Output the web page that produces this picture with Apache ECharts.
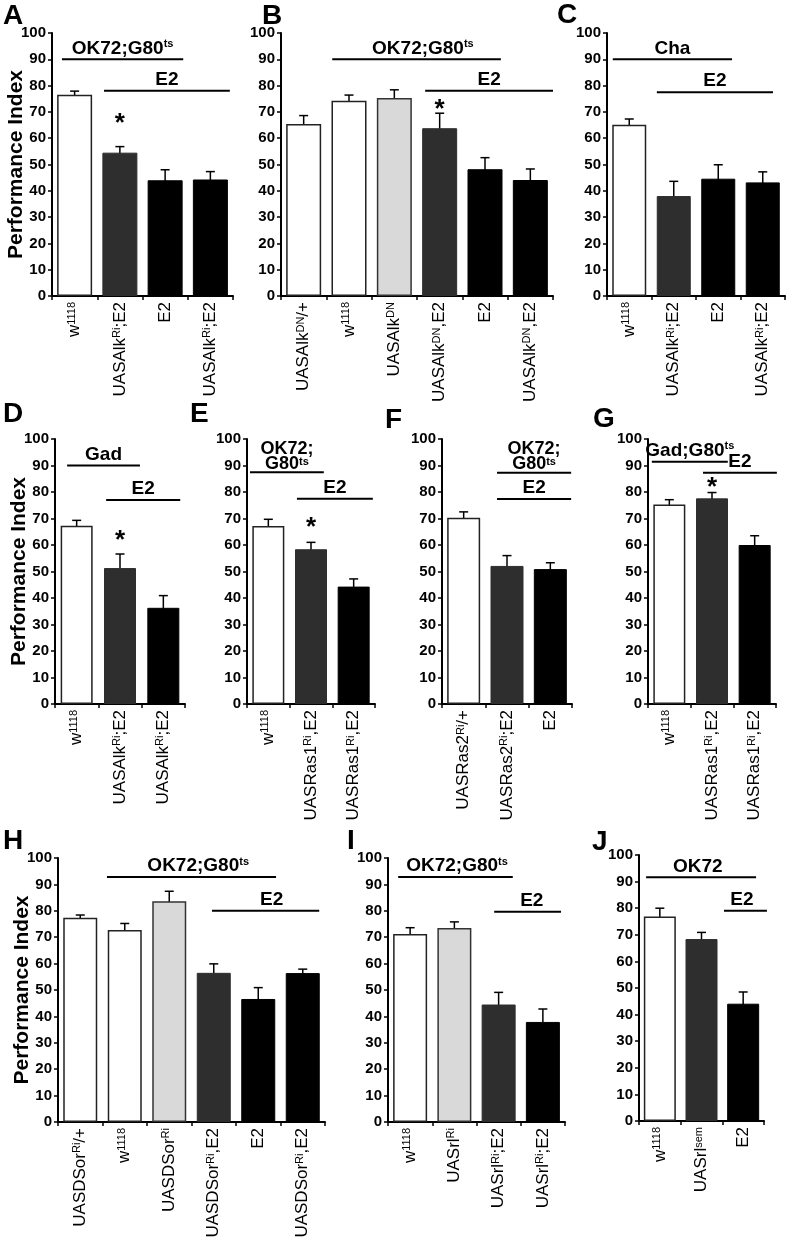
<!DOCTYPE html>
<html><head><meta charset="utf-8">
<script src="https://cdn.jsdelivr.net/npm/echarts@6/dist/echarts.min.js"></script>
<style>html,body{margin:0;padding:0;background:#fff}#c{width:787px;height:1240px}</style>
</head><body><div id="c"></div>
<script>
// ---------------- DATA ----------------
const catsA = ['w^{1118}','UASAlk^{Ri};E2','E2','UASAlk^{Ri};E2'];
const valsA = [76.5,54.5,44,44.3];
const errsA = [1.4,2.3,4,3];
const typesA = ['w','d','k','k'];
const groupsA = [{from:-0.28,to:2.4,at:90,label:'OK72;G80^{ts}'},{from:0.65,to:3.43,at:78,label:'E2'}];
const starsA = [[1,67.7]];

const catsB = ['UASAlk^{DN}/+','w^{1118}','UASAlk^{DN}','UASAlk^{DN},E2','E2','UASAlk^{DN},E2'];
const valsB = [65.4,74.2,75.3,63.8,48.2,44.1];
const errsB = [3.2,2.2,3.1,5.7,4.4,4.2];
const typesB = ['w','w','l','d','k','k'];
const groupsB = [{from:0.63,to:4.35,at:90,label:'OK72;G80^{ts}',labelAt:2.63},{from:2.68,to:5.5,at:78,label:'E2'}];
const starsB = [[3,73]];

const catsC = ['w^{1118}','UASAlk^{Ri};E2','E2','UASAlk^{Ri};E2'];
const valsC = [65.1,38,44.6,43.2];
const errsC = [2.2,5.6,5.3,4];
const typesC = ['w','d','k','k'];
const groupsC = [{from:-0.37,to:2.31,at:90,label:'Cha'},{from:0.62,to:3.23,at:77.5,label:'E2'}];
const starsC = [];

const catsD = ['w^{1118}','UASAlk^{Ri};E2','UASAlk^{Ri};E2'];
const valsD = [67.3,51.3,36.3];
const errsD = [2,5.3,4.6];
const typesD = ['w','d','k'];
const groupsD = [{from:-0.22,to:1.46,at:90,label:'Gad'},{from:0.68,to:2.39,at:77,label:'E2'}];
const starsD = [[1,63.8]];

const catsE = ['w^{1118}','UASRas1^{Ri},E2','UASRas1^{Ri},E2'];
const valsE = [67.2,58.4,44.3];
const errsE = [2.5,2.6,2.9];
const typesE = ['w','d','k'];
const groupsE = [{from:-0.43,to:1.3,at:87.5,label:'OK72;\nG80^{ts}'},{from:0.67,to:2.45,at:77.5,label:'E2'}];
const starsE = [[1,68.6]];

const catsF = ['UASRas2^{Ri}/+','UASRas2^{Ri};E2','E2'];
const valsF = [70.3,52.1,50.9];
const errsF = [2.2,3.9,2.4];
const typesF = ['w','d','k'];
const groupsF = [{from:0.77,to:2.48,at:87.3,label:'OK72;\nG80^{ts}'},{from:0.77,to:2.48,at:77.4,label:'E2'}];
const starsF = [];

const catsG = ['w^{1118}','UASRas1^{Ri},E2','UASRas1^{Ri},E2'];
const valsG = [75.3,77.6,60];
const errsG = [1.8,2.2,3.5];
const typesG = ['w','d','k'];
const groupsG = [{from:-0.41,to:1.37,at:91.4,label:'Gad;G80^{ts}'},{from:0.79,to:2.52,at:87.3,label:'E2'}];
const starsG = [[1,84]];

const catsH = ['UASDSor^{Ri}/+','w^{1118}','UASDSor^{Ri}','UASDSor^{Ri},E2','E2','UASDSor^{Ri},E2'];
const valsH = [77.4,72.7,83.6,56.5,46.6,56.4];
const errsH = [1,2.5,3.8,3.4,4.3,1.5];
const typesH = ['w','w','l','d','k','k'];
const groupsH = [{from:0.6,to:4.4,at:92.8,label:'OK72;G80^{ts}',labelAt:2.65},{from:2.96,to:5.37,at:80,label:'E2',labelAt:4.3}];
const starsH = [];

const catsI = ['w^{1118}','UASrl^{Ri}','UASrl^{Ri};E2','UASrl^{Ri};E2'];
const valsI = [71.2,73.5,44.5,37.9];
const errsI = [2.4,2.3,4.6,4.9];
const typesI = ['w','l','d','k'];
const groupsI = [{from:-0.27,to:2.32,at:92.8,label:'OK72;G80^{ts}',labelAt:1.06},{from:1.9,to:3.41,at:79.6,label:'E2',labelAt:2.75}];
const starsI = [];

const catsJ = ['w^{1118}','UASrl^{sem}','E2'];
const valsJ = [76.9,68.4,44.1];
const errsJ = [3.1,2.5,4.4];
const typesJ = ['w','d','k'];
const groupsJ = [{from:-0.33,to:2.31,at:91.6,label:'OK72',labelAt:0.91},{from:1.54,to:2.57,at:79,label:'E2',labelAt:1.97}];
const starsJ = [];

const yTitle = 'Performance Index';

// ---------------- LAYOUT / STYLE ----------------
const FF = '"Liberation Sans", Arial, sans-serif';
const layout = {
  A:{left:52,top:33,width:181,height:263,bw:35,letter:[3,2],title:true},
  B:{left:281,top:33,width:272,height:263,bw:35,letter:[262,2]},
  C:{left:607,top:33,width:178,height:263,bw:34,letter:[557,1]},
  D:{left:55,top:439,width:130,height:265,bw:32,letter:[3,400],title:true},
  E:{left:247,top:439,width:128,height:265,bw:32,letter:[190,400]},
  F:{left:442,top:439,width:130,height:265,bw:33,letter:[385,406]},
  G:{left:648,top:439,width:128,height:265,bw:32,letter:[593,405]},
  H:{left:58,top:858,width:267,height:264,bw:34,letter:[3,827],title:true},
  I:{left:388,top:858,width:177,height:264,bw:34,letter:[347,827]},
  J:{left:639,top:855,width:125,height:266,bw:32,letter:[592,828]}
};
const barStyle = {
  w:{color:'#ffffff',borderColor:'#222',borderWidth:1.5},
  l:{color:'#d9d9d9',borderColor:'#333',borderWidth:1.5},
  d:{color:'#2e2e2e',borderColor:'#2e2e2e',borderWidth:1},
  k:{color:'#000000',borderColor:'#000',borderWidth:1}
};
const panels = [
  {id:'A',cats:catsA,vals:valsA,errs:errsA,types:typesA,groups:groupsA,stars:starsA},
  {id:'B',cats:catsB,vals:valsB,errs:errsB,types:typesB,groups:groupsB,stars:starsB},
  {id:'C',cats:catsC,vals:valsC,errs:errsC,types:typesC,groups:groupsC,stars:starsC},
  {id:'D',cats:catsD,vals:valsD,errs:errsD,types:typesD,groups:groupsD,stars:starsD},
  {id:'E',cats:catsE,vals:valsE,errs:errsE,types:typesE,groups:groupsE,stars:starsE},
  {id:'F',cats:catsF,vals:valsF,errs:errsF,types:typesF,groups:groupsF,stars:starsF},
  {id:'G',cats:catsG,vals:valsG,errs:errsG,types:typesG,groups:groupsG,stars:starsG},
  {id:'H',cats:catsH,vals:valsH,errs:errsH,types:typesH,groups:groupsH,stars:starsH},
  {id:'I',cats:catsI,vals:valsI,errs:errsI,types:typesI,groups:groupsI,stars:starsI},
  {id:'J',cats:catsJ,vals:valsJ,errs:errsJ,types:typesJ,groups:groupsJ,stars:starsJ}
];
function sup(s){ return s.replace(/\^\{([^}]*)\}/g, '{s|$1}'); }

const option = {animation:false, backgroundColor:'#fff', title:[], grid:[], xAxis:[], yAxis:[], series:[]};
panels.forEach((p,i)=>{
  const L = layout[p.id];
  option.title.push({text:p.id,left:L.letter[0],top:L.letter[1],padding:0,
    textStyle:{fontSize:28,fontWeight:'bold',color:'#000',fontFamily:FF}});
  option.grid.push({left:L.left,top:L.top,width:L.width,height:L.height,containLabel:false,outerBoundsMode:'none'});
  option.xAxis.push({type:'category',gridIndex:i,data:p.cats,position:'bottom',
    axisLine:{onZero:false,lineStyle:{color:'#000',width:2}},
    axisTick:{show:true,inside:false,length:4,lineStyle:{color:'#000',width:1.5}},
    axisLabel:{interval:0,rotate:90,margin:6,fontSize:17,color:'#000',fontFamily:FF,
      formatter:v=>sup(v),
      rich:{s:{fontSize:11,lineHeight:10,verticalAlign:'top',color:'#000',fontFamily:FF}}},
    splitLine:{show:false}});
  option.xAxis.push({type:'value',gridIndex:i,min:-0.5,max:p.cats.length-0.5,show:false,position:'top',
    axisLine:{onZero:false}});
  option.yAxis.push({type:'value',gridIndex:i,min:0,max:100,interval:10,
    name:L.title?yTitle:'',nameLocation:'middle',nameGap:25,nameMoveOverlap:false,
    nameTextStyle:{fontSize:21,fontWeight:'bold',color:'#000',fontFamily:FF},
    axisLine:{show:true,onZero:false,lineStyle:{color:'#000',width:2}},
    axisTick:{show:true,length:4,lineStyle:{color:'#000',width:1.5}},
    axisLabel:{fontSize:15,fontWeight:'bold',color:'#000',fontFamily:FF,margin:6},
    splitLine:{show:false}});
  option.series.push({type:'bar',xAxisIndex:2*i,yAxisIndex:i,barWidth:L.bw,silent:true,
    data:p.vals.map((v,j)=>({value:v,itemStyle:barStyle[p.types[j]]}))});
  option.series.push({type:'custom',xAxisIndex:2*i+1,yAxisIndex:i,silent:true,
    data:p.vals.map((v,j)=>[j,v,p.errs[j]]),encode:{x:0,y:1},
    renderItem:(params,api)=>{
      const x=api.value(0),m=api.value(1),e=api.value(2);
      const hi=api.coord([x,m+e]),lo=api.coord([x,m-e]);const w=4.5;
      const st={stroke:'#000',lineWidth:1.5};
      return {type:'group',children:[
        {type:'line',shape:{x1:hi[0],y1:hi[1],x2:lo[0],y2:lo[1]},style:st},
        {type:'line',shape:{x1:hi[0]-w,y1:hi[1],x2:hi[0]+w,y2:hi[1]},style:st},
        {type:'line',shape:{x1:lo[0]-w,y1:lo[1],x2:lo[0]+w,y2:lo[1]},style:st}]};
    }});
  option.series.push({type:'custom',xAxisIndex:2*i+1,yAxisIndex:i,silent:true,clip:false,
    data:p.groups.map(g=>[g.from,g.to,g.at]),encode:{x:[0,1],y:2},
    renderItem:(params,api)=>{
      const g=p.groups[params.dataIndex];
      const a=api.coord([g.from,g.at]),b=api.coord([g.to,g.at]);
      const lx=api.coord([g.labelAt!=null?g.labelAt:(g.from+g.to)/2,g.at])[0];
      const multi=g.label.indexOf('\n')>=0;
      const fs=multi?18:19;
      return {type:'group',children:[
        {type:'line',shape:{x1:a[0],y1:a[1],x2:b[0],y2:b[1]},style:{stroke:'#000',lineWidth:2}},
        {type:'text',x:lx,y:a[1]-1,style:{text:sup(g.label),fontSize:fs,fontWeight:'bold',fontFamily:FF,
          fill:'#000',align:'center',verticalAlign:'bottom',lineHeight:multi?15:20,
          rich:{s:{fontSize:11,fontWeight:'bold',fontFamily:FF,fill:'#000',verticalAlign:'top',lineHeight:10}}}}
      ]};
    }});
  if(p.stars.length){
    option.series.push({type:'custom',xAxisIndex:2*i+1,yAxisIndex:i,silent:true,clip:false,
      data:p.stars,encode:{x:0,y:1},
      renderItem:(params,api)=>{
        const c=api.coord([api.value(0),api.value(1)]);
        return {type:'text',x:c[0],y:c[1]+6,style:{text:'*',fontSize:26,fontWeight:'bold',fontFamily:FF,
          fill:'#000',align:'center',verticalAlign:'middle'}};
      }});
  }
});
const chart = echarts.init(document.getElementById('c'),null,{renderer:'canvas'});
chart.setOption(option);
</script></body></html>
